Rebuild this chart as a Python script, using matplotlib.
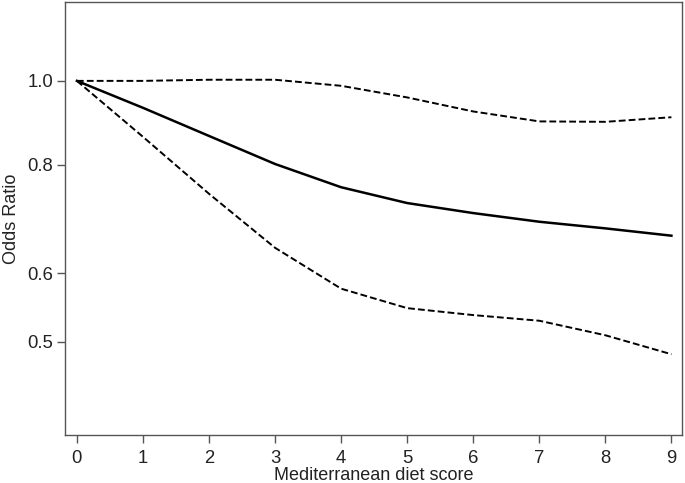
import numpy as np
import matplotlib
matplotlib.use("Agg")
import matplotlib.pyplot as plt
from matplotlib.ticker import FixedLocator, NullLocator, FixedFormatter

plt.rcParams['font.family'] = ['Liberation Sans', 'DejaVu Sans']

score = [0, 1, 2, 3, 4, 5, 6, 7, 8, 9]
odds_ratio = [1.0, 0.931, 0.864, 0.802, 0.754, 0.723, 0.704, 0.688, 0.676, 0.663]
upper_ci = [1.0, 1.0, 1.003, 1.003, 0.987, 0.957, 0.922, 0.898, 0.897, 0.908]
lower_ci = [1.0, 0.862, 0.741, 0.642, 0.576, 0.547, 0.537, 0.529, 0.509, 0.484]
y_ticks = [0.5, 0.6, 0.8, 1.0]
y_labels = ["0.5", "0.6", "0.8", "1.0"]
x_ticks = list(range(10))

fig = plt.figure(figsize=(6.85, 4.83), dpi=100)
ax = fig.add_axes([0.0949, 0.0994, 0.9007, 0.8965])

ax.plot(score, odds_ratio, color='black', lw=1.8, solid_joinstyle='round')
ax.plot(score, upper_ci, color='black', lw=1.4, linestyle=(0, (3.5, 1.6)))
ax.plot(score, lower_ci, color='black', lw=1.4, linestyle=(0, (3.5, 1.6)))

ax.set_yscale('log')
ax.set_ylim(0.3906, 1.233)
ax.set_xlim(-0.18, 9.16)
ax.yaxis.set_major_locator(FixedLocator(y_ticks))
ax.yaxis.set_major_formatter(FixedFormatter(y_labels))
ax.yaxis.set_minor_locator(NullLocator())
ax.set_xticks(x_ticks)

for s in ax.spines.values():
    s.set_color('#555555')
    s.set_linewidth(1.0)
ax.tick_params(axis='both', direction='out', length=6, width=1, color='#555555',
               labelsize=13.3, labelcolor='#222222')
ax.tick_params(axis='x', pad=5)
ax.tick_params(axis='y', pad=2.5)

ax.set_xlabel('Mediterranean diet score', fontsize=13, color='#222222', labelpad=0)
ax.set_ylabel('Odds Ratio', fontsize=13, color='#222222')
ax.yaxis.set_label_coords(-0.073, 0.5)

fig.savefig('out.png', dpi=100)
